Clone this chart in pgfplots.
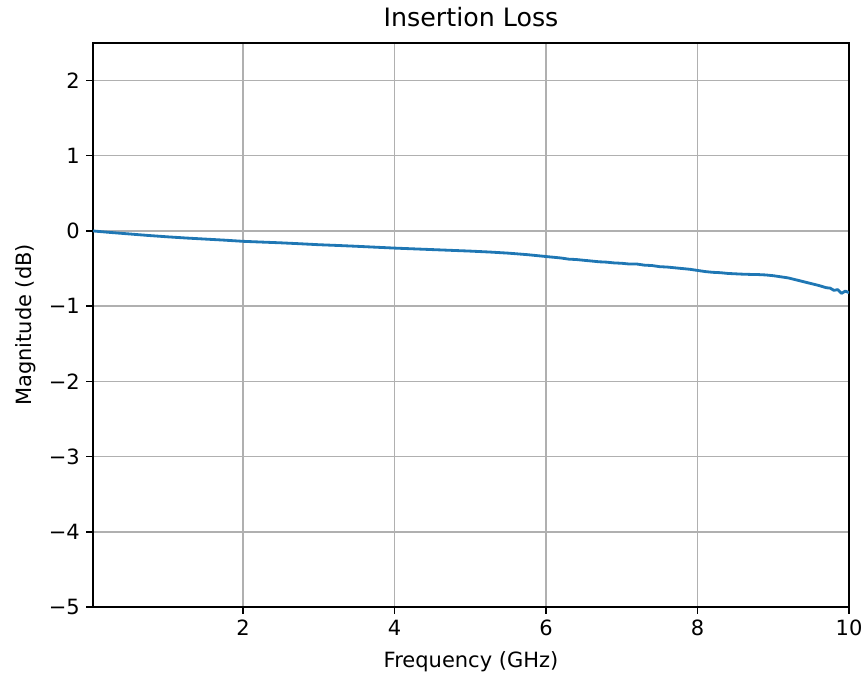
\documentclass[border=0pt]{standalone}
\usepackage{pgfplots}
\pgfplotsset{compat=1.18}
\usepackage{fontspec}
\setmainfont{DejaVu Sans}
\definecolor{mplblue}{HTML}{1F77B4}
\definecolor{mplgrid}{HTML}{B0B0B0}
\begin{document}
\begin{tikzpicture}
\path[use as bounding box] (-49.6pt,-37.3pt) rectangle (411.7pt,323.7pt);
\begin{axis}[
  scale only axis,
  width=403.2pt, height=300.8pt,
  xmin=0.02, xmax=10, ymin=-5, ymax=2.5,
  xtick={2,4,6,8,10}, xticklabels={2,4,6,8,10},
  ytick={-5,-4,-3,-2,-1,0,1,2},
  yticklabels={−5,−4,−3,−2,−1,0,1,2},
  tick align=outside, major tick length=3.5pt,
  tick style={black, line width=0.8pt},
  axis line style={black, line width=0.8pt},
  grid=major, grid style={mplgrid, line width=0.8pt},
  ticklabel style={font=\fontsize{11.2}{13}\selectfont},
  xtick pos=bottom, ytick pos=left,
  xlabel={Frequency (GHz)}, ylabel={Magnitude (dB)},
  title={Insertion Loss}, title style={font=\fontsize{13.5}{16}\selectfont, yshift=-1pt},
  every axis x label/.style={at={(axis description cs:0.5,0)}, anchor=north, yshift=-20.5pt, font=\fontsize{11.2}{13}\selectfont},
  every axis y label/.style={at={(axis description cs:0,0.5)}, anchor=south, rotate=90, yshift=27pt, font=\fontsize{11.2}{13}\selectfont},
]
\addplot[mplblue, line width=1.5pt, line join=round] coordinates {
(0.02,0.0) (0.25,-0.02) (0.5,-0.04) (0.75,-0.06) (1.0,-0.078) (1.25,-0.094)
(1.5,-0.108) (1.75,-0.122) (2.0,-0.138) (2.25,-0.148) (2.5,-0.158) (2.75,-0.17)
(3.0,-0.183) (3.25,-0.193) (3.5,-0.204) (3.75,-0.216) (4.0,-0.228) (4.25,-0.238)
(4.5,-0.248) (4.75,-0.258) (5.0,-0.268) (5.25,-0.28) (5.5,-0.295) (5.75,-0.315)
(6.0,-0.34) (6.1,-0.35) (6.2,-0.36) (6.3,-0.375) (6.4,-0.38) (6.5,-0.39)
(6.6,-0.40) (6.7,-0.41) (6.8,-0.415) (6.9,-0.425) (7.0,-0.43) (7.1,-0.44)
(7.2,-0.44) (7.3,-0.455) (7.4,-0.46) (7.5,-0.475) (7.6,-0.48) (7.7,-0.49)
(7.8,-0.50) (7.9,-0.51) (8.0,-0.525) (8.1,-0.54) (8.2,-0.55) (8.3,-0.555)
(8.4,-0.565) (8.5,-0.57) (8.6,-0.575) (8.7,-0.578) (8.8,-0.58) (8.9,-0.585)
(9.0,-0.595) (9.1,-0.61) (9.2,-0.625) (9.3,-0.65) (9.4,-0.675) (9.5,-0.70)
(9.6,-0.725) (9.7,-0.755) (9.75,-0.76) (9.8,-0.79) (9.85,-0.78) (9.9,-0.83)
(9.95,-0.80) (10.0,-0.82)
};
\end{axis}
\end{tikzpicture}
\end{document}
